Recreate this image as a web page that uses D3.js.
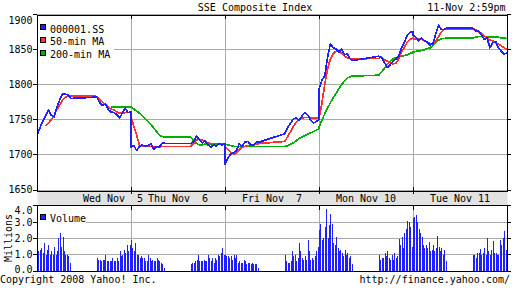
<!DOCTYPE html>
<html><head><meta charset="utf-8">
<script src="https://cdn.jsdelivr.net/npm/d3@7"></script>
<style>
body{margin:0;background:#fff}
svg{display:block}
text{font-family:"DejaVu Sans Mono",monospace;font-size:10px;fill:#000}
</style>
</head><body>
<svg id="c" width="512" height="288"></svg>
<script>
const title = "SSE Composite Index";
const stamp = "11-Nov 2:59pm";
const days = ["Wed Nov  5","Thu Nov  6","Fri Nov  7","Mon Nov 10","Tue Nov 11"];
const sessionTimes = ["09:30","09:40","09:50","10:00","10:10","10:20","10:30","10:40","10:50","11:00","11:10","11:20","11:30",
  "13:00","13:10","13:20","13:30","13:40","13:50","14:00","14:10","14:20","14:30","14:40","14:50","15:00"];
const volumeTimes = ["09:30","09:35","09:40","09:45","09:50","09:55","10:00","10:05","10:10","10:15","10:20","10:25",
  "10:30","10:35","10:40","10:45","10:50","10:55","11:00","11:05","11:10","11:15","11:20","11:25",
  "13:00","13:05","13:10","13:15","13:20","13:25","13:30","13:35","13:40","13:45","13:50","13:55",
  "14:00","14:05","14:10","14:15","14:20","14:25","14:30","14:35","14:40","14:45","14:50","14:55"];
const priceTicks = [1650,1700,1750,1800,1850,1900];
const volumeTicks = [0,1,2,3,4];
const seriesNames = ["000001.SS","50-min MA","200-min MA"];

// index level, 10-minute samples, 26 per day
const priceSSE = [
 1727,1738,1747,1755,1764,1756,1754,1768,1778,1787,1786,1785,1780, 1782,1774,1770,1772,1764,1761,1760,1757,1752,1760,1766,1760,1761,
 1711,1713,1706,1712,1714,1712,1713,1716,1708,1712,1711,1717,1716, 1716,1719,1727,1721,1717,1720,1714,1711,1714,1712,1716,1714,1716,
 1686,1695,1701,1703,1706,1716,1712,1718,1719,1714,1714,1718,1718, 1730,1739,1745,1751,1752,1749,1755,1760,1757,1750,1745,1747,1750,
 1793,1806,1812,1838,1858,1852,1850,1846,1850,1842,1843,1836,1834, 1840,1838,1831,1824,1828,1833,1836,1840,1852,1860,1870,1874,1875,
 1870,1867,1862,1866,1862,1860,1856,1858,1872,1884,1878,1878,1880, 1880,1876,1876,1870,1864,1866,1852,1859,1861,1852,1847,1843,1845
];
const ma50 = [
 null,null,null,1741,1745,1750,1756,1764,1771,1778,1782,1784,1784, 1783,1778,1775,1771,1768,1765,1764,1761,1759,1759,1760,1760,1760,
 1754,1740,1728,1713,1712,1712,1712,1712,1711,1711,1711,1712,1712, 1712,1716,1721,1722,1721,1719,1717,1716,1716,1716,1716,1716,1716,
 1712,1708,1704,1701,1703,1707,1711,1712,1713,1713,1714,1715,1716, 1719,1726,1733,1740,1746,1750,1752,1753,1753,1753,1752,1752,1752,
 1752,1772,1800,1822,1836,1844,1847,1847,1844,1840,1838,1837,1836, 1837,1839,1835,1833,1831,1829,1830,1836,1846,1853,1860,1864,1866,
 1865,1864,1865,1864,1862,1860,1858,1858,1862,1868,1875,1878,1879, 1879,1878,1875,1873,1869,1866,1863,1862,1859,1857,1855,1852,1850
];
const ma200 = [
 null,null,null,null,null,null,null,null,null,null,null,null,null, null,null,null,null,null,1768,1768,1768,1768,1768,1768,1768,1768,
 1768,1765,1762,1759,1755,1751,1747,1743,1738,1733,1728,1726,1725, 1725,1720,1716,1714,1714,1715,1715,1715,1715,1715,1715,1715,1715,
 1715,1714,1713,1712,1712,1712,1712,1712,1712,1712,1712,1712,1712, 1712,1713,1715,1717,1720,1723,1725,1727,1729,1731,1733,1735,1737,
 1739,1749,1758,1766,1774,1781,1787,1794,1800,1805,1809,1811,1812, 1813,1818,1823,1829,1833,1836,1838,1839,1840,1841,1842,1844,1845,
 1846,1847,1847,1848,1849,1851,1852,1855,1860,1863,1865,1865,1866, 1866,1867,1868,1868,1868,1868,1867,1867,1867,1867,1866,1866,1865
];
// volume in millions, 5-minute bars, 48 per day
const volume = [
 1.0,1.2,1.3,1.4,1.1,1.7,1.0,1.3,1.6,1.0,1.2,1.0,1.5,1.0,1.2,2.0,2.3,1.5,2.1,1.2,1.0,1.0,0.9,0.5,
 0.8,0.7,0.7,0.6,0.7,0.7,1.0,0.6,0.6,0.6,0.6,0.8,0.6,0.6,0.8,0.6,1.2,0.9,1.0,1.3,1.1,1.6,1.2,1.6,
 1.9,1.4,1.2,1.7,1.0,1.0,0.8,0.9,0.8,0.8,0.6,0.6,1.0,0.8,0.6,0.7,0.6,0.6,0.8,0.7,0.6,0.5,0.4,0.2,
 0.4,0.5,0.5,0.6,0.7,1.0,0.6,0.6,0.6,0.7,0.6,0.6,1.0,0.8,0.6,0.8,0.5,0.8,0.7,1.0,0.9,1.1,1.4,1.0,
 1.0,0.9,0.9,0.8,0.9,0.7,1.0,0.8,1.0,0.5,0.6,0.5,0.5,0.7,0.6,0.4,0.5,0.5,0.4,0.5,0.4,0.4,0.4,0.2,
 0.95,0.6,0.5,0.5,0.6,1.2,0.9,1.0,0.6,0.8,1.7,1.2,0.8,0.7,0.9,0.7,1.9,1.2,0.7,0.8,0.7,0.9,1.2,1.5,
 2.5,2.85,1.9,2.0,2.7,3.8,2.0,2.8,3.5,2.85,1.7,1.6,2.1,1.4,1.2,1.3,1.1,0.9,1.3,1.0,1.1,0.8,0.9,0.4,
 1.0,0.7,0.8,0.8,1.1,0.9,1.2,0.8,0.7,1.0,0.7,1.1,0.8,0.9,1.95,1.6,2.1,1.4,2.3,2.6,3.05,3.0,2.7,1.5,
 3.25,3.3,3.4,3.0,2.6,2.3,2.1,1.6,1.4,1.6,1.4,1.8,1.2,1.3,1.6,1.2,1.4,2.15,1.5,1.2,1.4,1.0,1.3,0.6,
 1.0,1.0,0.8,1.1,1.1,1.35,1.0,1.1,1.4,1.0,2.0,1.2,1.0,1.3,1.85,1.1,1.1,1.0,1.0,1.9,1.6,2.0,2.45,1.3
];

// ---- layout ----
const L = 37, R = 507, mainTop = 15, mainBottom = 191, volTop = 206, volBottom = 271;
const dayMinutes = 330;
const colors = {sse:"#2020ff", m50:"#ff3030", m200:"#00b000", grid:"#aaaaaa", band:"#e2e2e2"};
const svg = d3.select("#c");
const mins = s => { const [h,m] = s.split(":").map(Number); return h*60 + m - 570; };
const x = d3.scaleLinear().domain([0, days.length*dayMinutes]).range([L, R]);
const y = d3.scaleLinear().domain([1650,1900]).range([190, 14]);
const yv = d3.scaleLinear().domain([0,4]).range([volBottom, 205.7]);
const px = v => Math.floor(v) + 0.5;

const pts = [];
days.forEach((d, di) => sessionTimes.forEach((t, j) => {
  const k = di*sessionTimes.length + j;
  pts.push({t: di*dayMinutes + mins(t), sse: priceSSE[k], m50: ma50[k], m200: ma200[k]});
}));
const bars = [];
days.forEach((d, di) => volumeTimes.forEach((t, j) => {
  bars.push({t: di*dayMinutes + mins(t), v: volume[di*volumeTimes.length + j]});
}));

// band
svg.append("rect").attr("x", L+0.5).attr("y", mainBottom+0.5).attr("width", R-L).attr("height", volTop-mainBottom-1)
  .attr("fill", colors.band);

// grid lines
const g = svg.append("g").attr("shape-rendering","crispEdges");
priceTicks.forEach(v => {
  g.append("line").attr("x1", L).attr("x2", R).attr("y1", px(y(v))).attr("y2", px(y(v))).attr("stroke", colors.grid);
});
volumeTicks.forEach(v => {
  g.append("line").attr("x1", L).attr("x2", R).attr("y1", px(yv(v))).attr("y2", px(yv(v))).attr("stroke", colors.grid);
});
d3.range(1, days.length).forEach(di => {
  const xx = px(x(di*dayMinutes));
  g.append("line").attr("x1", xx).attr("x2", xx).attr("y1", mainTop).attr("y2", mainBottom).attr("stroke", colors.grid);
  g.append("line").attr("x1", xx).attr("x2", xx).attr("y1", volTop).attr("y2", volBottom).attr("stroke", colors.grid);
  [[mainTop, mainTop+4],[mainBottom-4, mainBottom+3],[volTop, volTop+4],[volBottom-4, volBottom]].forEach(([a,b]) =>
    g.append("line").attr("x1", xx).attr("x2", xx).attr("y1", a).attr("y2", b).attr("stroke", "#000"));
});

// volume bars
svg.append("g").attr("shape-rendering","crispEdges").selectAll("rect").data(bars).join("rect")
  .attr("x", d => Math.round(x(d.t))).attr("width", 1)
  .attr("y", d => yv(d.v)).attr("height", d => volBottom - yv(d.v))
  .attr("fill", colors.sse);

// price lines
svg.append("clipPath").attr("id","clip").append("rect").attr("x", L).attr("y", mainTop).attr("width", R-L).attr("height", mainBottom-mainTop);
const lines = svg.append("g").attr("clip-path","url(#clip)");
[["m200", colors.m200], ["m50", colors.m50], ["sse", colors.sse]].forEach(([k, c]) => {
  const ln = d3.line().defined(d => d[k] != null).x(d => x(d.t)).y(d => y(d[k]));
  lines.append("path").attr("d", ln(pts)).attr("fill","none").attr("stroke", c).attr("stroke-width", 1.7)
    .attr("stroke-linejoin","round").attr("shape-rendering","crispEdges");
});

// frames
const fr = svg.append("g").attr("shape-rendering","crispEdges").attr("fill","none").attr("stroke","#000");
fr.append("rect").attr("x", L+0.5).attr("y", mainTop+0.5).attr("width", R-L).attr("height", mainBottom-mainTop);
fr.append("rect").attr("x", L+0.5).attr("y", volTop-0.5).attr("width", R-L).attr("height", volBottom-volTop+1);
fr.append("line").attr("x1", L).attr("x2", R).attr("y1", volTop-0.5).attr("y2", volTop-0.5);
priceTicks.forEach(v => {
  fr.append("line").attr("x1", L-4).attr("x2", L).attr("y1", px(y(v))).attr("y2", px(y(v)));
  fr.append("line").attr("x1", R).attr("x2", R+4).attr("y1", px(y(v))).attr("y2", px(y(v)));
});
volumeTicks.forEach(v => {
  fr.append("line").attr("x1", L-4).attr("x2", L).attr("y1", px(yv(v))).attr("y2", px(yv(v)));
  fr.append("line").attr("x1", R).attr("x2", R+4).attr("y1", px(yv(v))).attr("y2", px(yv(v)));
});

// axis labels
priceTicks.forEach(v => {
  const c = Math.min(Math.max(y(v), mainTop+5.5), mainBottom-1.5);
  svg.append("text").attr("x", 32.5).attr("y", c+3.5).attr("text-anchor","end").text(v);
});
const fmt = d3.format(".1f");
volumeTicks.forEach(v => {
  const c = Math.min(Math.max(yv(v), volTop+4), volBottom-2);
  svg.append("text").attr("x", 32.5).attr("y", c+3.5).attr("text-anchor","end").text(fmt(v));
});
svg.append("text").attr("transform","translate(11.5,238) rotate(-90)").attr("text-anchor","middle").text("Millions");

// day labels
days.forEach((d, di) => {
  const cx = x(di*dayMinutes + dayMinutes/2) + (di === 0 ? 29 : 0);
  svg.append("text").attr("x", cx).attr("y", 201.5).attr("text-anchor","middle").style("white-space","pre").text(d);
});

// legends
svg.append("rect").attr("x", 38).attr("y", 21).attr("width", 76).attr("height", 40).attr("fill","#fff");
[colors.sse, colors.m50, colors.m200].forEach((c, i) => {
  svg.append("rect").attr("x", 40.5).attr("y", 24.5 + i*12.8).attr("width", 5).attr("height", 5)
    .attr("fill", c).attr("stroke", "#000").attr("shape-rendering","crispEdges");
  svg.append("text").attr("x", 50).attr("y", 32.5 + i*12.8).text(seriesNames[i]);
});
svg.append("rect").attr("x", 38).attr("y", 210).attr("width", 48).attr("height", 14).attr("fill","#fff");
svg.append("rect").attr("x", 40.5).attr("y", 214.5).attr("width", 5).attr("height", 5)
  .attr("fill", colors.sse).attr("stroke","#000").attr("shape-rendering","crispEdges");
svg.append("text").attr("x", 50).attr("y", 222).text("Volume");

// titles
svg.append("text").attr("x", 255).attr("y", 11).attr("text-anchor","middle").text(title);
svg.append("text").attr("x", 505.5).attr("y", 11).attr("text-anchor","end").text(stamp);
svg.append("text").attr("x", 0).attr("y", 282.5).text("Copyright 2008 Yahoo! Inc.");
svg.append("text").attr("x", 510).attr("y", 282.5).attr("text-anchor","end").text("http://finance.yahoo.com/");
</script>
</body></html>
